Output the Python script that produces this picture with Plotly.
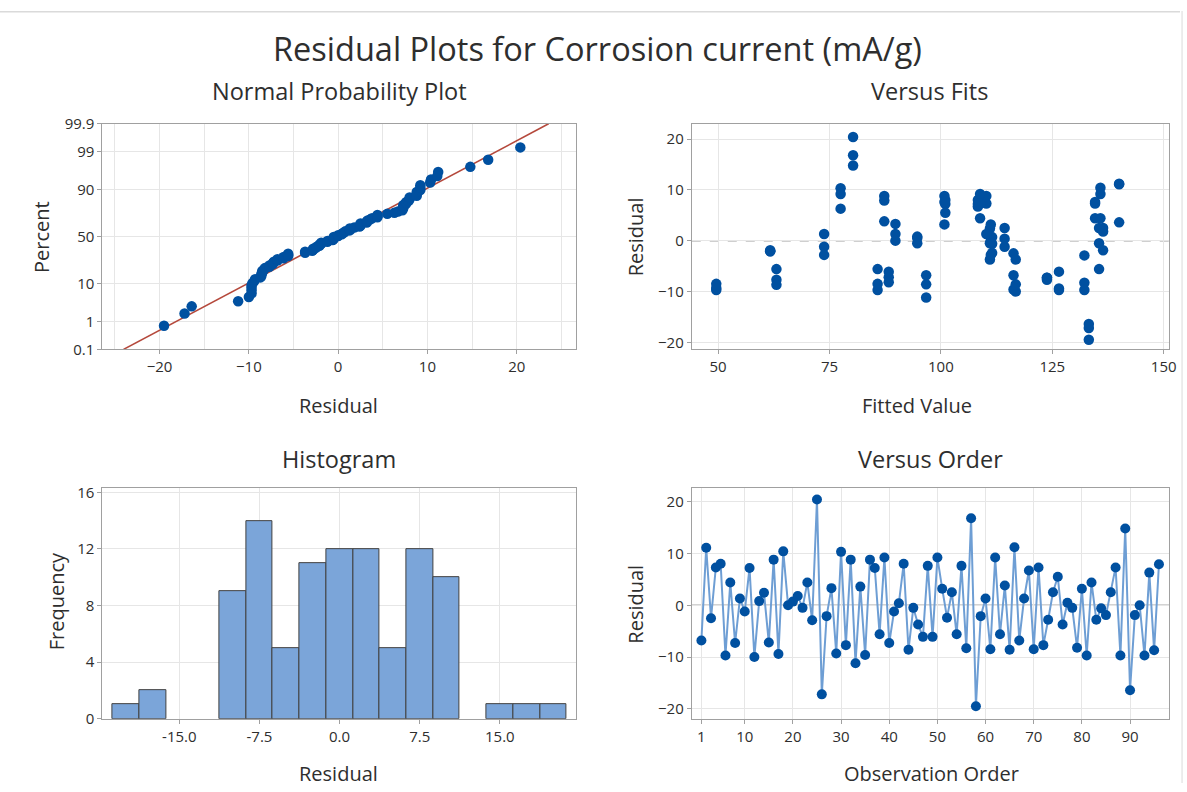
import numpy as np
import plotly.graph_objects as go
from statistics import NormalDist

# ---------------- data ----------------
observation = list(range(1, 97))

residuals = [
    -6.8, 11.1, -2.5, 7.3, 8.0, -9.7, 4.4, -7.3, 1.3, -1.2,
    7.2, -10.0, 0.8, 2.4, -7.2, 8.8, -9.4, 10.4, 0.0, 0.7,
    1.8, -0.5, 4.4, -2.9, 20.4, -17.2, -2.1, 3.3, -9.3, 10.3,
    -7.7, 8.8, -11.2, 3.6, -9.6, 8.8, 7.2, -5.6, 9.2, -7.3,
    -1.2, 0.4, 8.0, -8.6, -0.5, -3.7, -6.1, 7.6, -6.1, 9.2,
    3.2, -2.4, 2.5, -5.6, 7.6, -8.3, 16.8, -19.5, -2.1, 1.3,
    -8.5, 9.2, -5.6, 3.8, -8.6, 11.2, -6.8, 1.3, 6.7, -8.5,
    7.3, -7.7, -2.8, 2.5, 5.5, -3.7, 0.5, -0.5, -8.2, 3.2,
    -9.7, 4.4, -2.8, -0.6, -1.9, 2.5, 7.3, -9.7, 14.8, -16.4,
    -1.9, 0.0, -9.7, 6.3, -8.7, 7.9,
]

fitted = [
    96.7, 140.0, 116.3, 110.2, 108.3, 85.8, 108.8, 123.8, 73.8, 114.3,
    101.0, 116.8, 94.7, 111.0, 88.3, 100.8, 126.5, 135.8, 111.2, 111.5,
    136.4, 135.5, 134.6, 132.2, 80.3, 133.2, 61.7, 89.8, 49.6, 77.5,
    63.1, 87.3,
    96.7, 140.0, 116.3, 110.2, 108.3, 85.8, 108.8, 123.8, 73.8, 114.3,
    101.0, 116.8, 94.7, 111.0, 88.3, 100.8, 126.5, 135.8, 111.2, 111.5,
    136.4, 135.5, 134.6, 132.2, 80.3, 133.2, 61.7, 89.8, 49.6, 77.5,
    63.1, 87.3,
    96.7, 140.0, 116.3, 110.2, 108.3, 85.8, 108.8, 123.8, 73.8, 114.3,
    101.0, 116.8, 94.7, 111.0, 88.3, 100.8, 126.5, 135.8, 111.2, 111.5,
    136.4, 135.5, 134.6, 132.2, 80.3, 133.2, 61.7, 89.8, 49.6, 77.5,
    63.1, 87.3,
]

percent_ticks = [0.1, 1, 10, 50, 90, 99, 99.9]
percent_labels = ["0.1", "1", "10", "50", "90", "99", "99.9"]
order_ticks = [1, 10, 20, 30, 40, 50, 60, 70, 80, 90]
hist_ticks = [-15.0, -7.5, 0.0, 7.5, 15.0]
hist_labels = ["-15.0", "-7.5", "0.0", "7.5", "15.0"]

# ---------------- derived ----------------
nd = NormalDist()
n = len(residuals)
sorted_res = sorted(residuals)
z_pts = [nd.inv_cdf((i - 0.3) / (n + 0.4)) for i in range(1, n + 1)]
mu = float(np.mean(residuals))
sd = float(np.std(residuals, ddof=1))
z_lo, z_hi = nd.inv_cdf(0.001), nd.inv_cdf(0.999)
z_ticks = [nd.inv_cdf(p / 100) for p in percent_ticks]

W, H = 1187, 792
FONT = "Open Sans"
TXT = "#2E2E2E"
BLUE = "#0050A0"


# map a target screen pixel to figure pixel (page is slightly rescaled when shown)
def PX(p):
    return (p - 0.66) / 0.9935


def PY(p):
    return (p - 9.0) / 0.9765


def xd(a, b):
    return [PX(a) / W, PX(b) / W]


def yd(top, bottom):
    return [1 - PY(bottom) / H, 1 - PY(top) / H]


axis_common = dict(
    showline=True, linecolor="#A0A0A0", linewidth=1, mirror=True,
    showgrid=True, gridcolor="#E6E6E6", gridwidth=1,
    ticks="outside", ticklen=4, tickcolor="#A0A0A0",
    tickfont=dict(size=15, color=TXT, family=FONT), zeroline=False,
)

fig = go.Figure()

# Normal probability plot
fig.add_trace(go.Scatter(
    x=[mu + sd * z_lo, mu + sd * z_hi], y=[z_lo, z_hi], mode="lines",
    line=dict(color="#B5493C", width=1.6), xaxis="x", yaxis="y", showlegend=False))
fig.add_trace(go.Scatter(
    x=sorted_res, y=z_pts, mode="markers",
    marker=dict(color=BLUE, size=10.5), xaxis="x", yaxis="y", showlegend=False))

# Versus fits
fig.add_trace(go.Scatter(
    x=fitted, y=residuals, mode="markers",
    marker=dict(color=BLUE, size=10.5), xaxis="x2", yaxis="y2", showlegend=False))

# Histogram
fig.add_trace(go.Histogram(
    x=residuals, xbins=dict(start=-21.25, end=21.25, size=2.5),
    marker=dict(color="#7BA5D9", line=dict(color="#404040", width=1)),
    xaxis="x3", yaxis="y3", showlegend=False))

# Versus order
fig.add_trace(go.Scatter(
    x=observation, y=residuals, mode="lines+markers",
    line=dict(color="#6E9ED4", width=2),
    marker=dict(color=BLUE, size=10), xaxis="x4", yaxis="y4", showlegend=False))

L, R = (103, 576), (692, 1169)
T, B = (122, 348), (487, 718)

fig.update_layout(
    width=W, height=H, margin=dict(l=0, r=0, t=0, b=0),
    paper_bgcolor="white", plot_bgcolor="white", bargap=0,
    font=dict(family=FONT, color=TXT),
    xaxis=dict(axis_common, domain=xd(*L), anchor="y", range=[-26.4, 26.6],
               tickvals=[-20, -10, 0, 10, 20],
               minor=dict(dtick=5, tick0=0, showgrid=True, gridcolor="#E6E6E6", ticks="")),
    yaxis=dict(axis_common, domain=yd(*T), anchor="x", range=[z_lo, z_hi],
               tickvals=z_ticks, ticktext=percent_labels),
    xaxis2=dict(axis_common, domain=xd(*R), anchor="y2", range=[44.1, 151.2],
                tickvals=[50, 75, 100, 125, 150]),
    yaxis2=dict(axis_common, domain=yd(*T), anchor="x2", range=[-21.4, 23.0],
                tickvals=[-20, -10, 0, 10, 20]),
    xaxis3=dict(axis_common, domain=xd(*L), anchor="y3", range=[-22.2, 22.1],
                tickvals=hist_ticks, ticktext=hist_labels),
    yaxis3=dict(axis_common, domain=yd(*B), anchor="x3", range=[0, 16.3],
                tickvals=[0, 4, 8, 12, 16]),
    xaxis4=dict(axis_common, domain=xd(*R), anchor="y4", range=[-1.0, 98.1],
                tickvals=order_ticks),
    yaxis4=dict(axis_common, domain=yd(*B), anchor="x4", range=[-21.9, 22.6],
                tickvals=[-20, -10, 0, 10, 20]),
)

# reference lines at zero
fig.add_shape(type="line", xref="x2 domain", yref="y2", x0=0, x1=1, y0=0, y1=0,
              line=dict(color="#A0A0A0", width=1.5, dash="dash"), layer="below")
fig.add_shape(type="line", xref="x4 domain", yref="y4", x0=0, x1=1, y0=0, y1=0,
              line=dict(color="#A8A8A8", width=1.5), layer="below")

# frame lines of the screenshot
fig.add_shape(type="line", xref="paper", yref="paper", x0=0, x1=1,
              y0=0.999, y1=0.999, line=dict(color="#DADADA", width=1.5))
fig.add_shape(type="line", xref="paper", yref="paper", x0=PX(1182) / W, x1=PX(1182) / W,
              y0=0, y1=1, line=dict(color="#DADADA", width=1))


def ann(text, x, y, size, angle=0):
    fig.add_annotation(text=text, x=PX(x) / W, y=1 - PY(y) / H, xref="paper", yref="paper",
                       showarrow=False, textangle=angle, xanchor="center", yanchor="middle",
                       font=dict(size=size, color=TXT, family=FONT))


ann("Residual Plots for Corrosion current (mA/g)", 598, 47, 32.5)
ann("Normal Probability Plot", 340, 89, 23.5)
ann("Versus Fits", 930, 89, 23.5)
ann("Histogram", 339, 458, 23.5)
ann("Versus Order", 931, 458, 23.5)

ann("Residual", 339, 404, 20)
ann("Percent", 42, 235, 20, -90)
ann("Fitted Value", 917, 404, 20)
ann("Residual", 636, 235, 20, -90)
ann("Residual", 339, 773, 20)
ann("Frequency", 58, 600, 20, -90)
ann("Observation Order", 932, 773, 20)
ann("Residual", 636, 603, 20, -90)

fig.write_html("out.html", config={"displayModeBar": False},
               post_script="document.body.style.margin='0px';")
